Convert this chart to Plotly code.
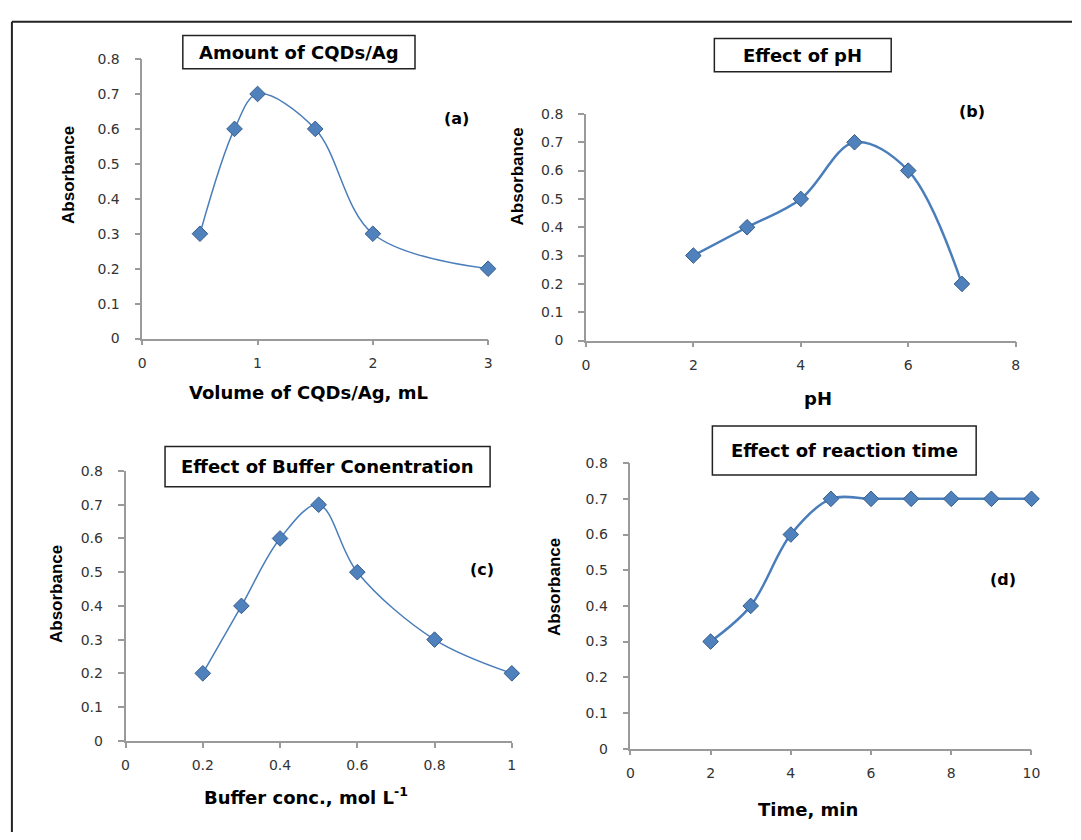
import plotly.graph_objects as go

W, H = 1081, 840

# ---- data ----
vol_ml = [0.5, 0.8, 1.0, 1.5, 2.0, 3.0]
abs_vol = [0.3, 0.6, 0.7, 0.6, 0.3, 0.2]

ph = [2, 3, 4, 5, 6, 7]
abs_ph = [0.3, 0.4, 0.5, 0.7, 0.6, 0.2]

buffer_conc = [0.2, 0.3, 0.4, 0.5, 0.6, 0.8, 1.0]
abs_buffer = [0.2, 0.4, 0.6, 0.7, 0.5, 0.3, 0.2]

time_min = [2, 3, 4, 5, 6, 7, 8, 9, 10]
abs_time = [0.3, 0.4, 0.6, 0.7, 0.7, 0.7, 0.7, 0.7, 0.7]

panel_titles = ["Amount of CQDs/Ag", "Effect of pH", "Effect of Buffer Conentration", "Effect of reaction time"]
panel_tags = ["(a)", "(b)", "(c)", "(d)"]
x_titles = ["Volume of CQDs/Ag, mL", "pH", "Buffer conc., mol L<sup>-1</sup>", "Time, min"]
y_title = "Absorbance"
x_ranges = [[0, 3], [0, 8], [0, 1], [0, 10]]
x_dticks = [1, 2, 0.2, 2]
y_range = [0, 0.8]

# ---- layout geometry (window pixels) ----
areas = [(140, 490, 52, 337), (589, 1024, 108, 339), (123, 514, 472, 747), (634, 1040, 464, 755)]
title_boxes = [(181, 416, 28, 62), (719, 898, 31, 65), (163, 492, 447, 488), (717, 984, 426, 476)]
tag_pos = [(458, 113), (980, 105), (484, 572), (1011, 583)]
ytitle_pos = [(66, 170), (520, 172), (53, 597), (557, 590)]
xtitle_pos = [(308, 392), (824, 398), (306, 803), (814, 817)]
line_widths = [1.5, 2.5, 1.5, 2.5]

def px(x):
    return x / W

def py(y):
    return 1 - y / H

LINE_COLOR = "#4A7EBB"
MARKER_COLOR = "#4F81BD"
MARKER_EDGE = "#385D8A"
AXIS_COLOR = "#9A9A9A"
TICK_FONT = dict(family="DejaVu Sans", size=14, color="#333333")
BOLD = "DejaVu Sans"

fig = go.Figure()
series = [(vol_ml, abs_vol), (ph, abs_ph), (buffer_conc, abs_buffer), (time_min, abs_time)]

layout = dict(
    width=W, height=H,
    margin=dict(l=0, r=0, t=0, b=0),
    paper_bgcolor="white", plot_bgcolor="white",
    showlegend=False,
)
annotations = []
shapes = []

for i, (xs, ys) in enumerate(series):
    n = "" if i == 0 else str(i + 1)
    fig.add_trace(go.Scatter(
        x=xs, y=ys, mode="lines+markers",
        line=dict(color=LINE_COLOR, width=line_widths[i], shape="spline", smoothing=1.0),
        marker=dict(symbol="diamond", size=12, color=MARKER_COLOR,
                    line=dict(color=MARKER_EDGE, width=1)),
        xaxis="x" + n, yaxis="y" + n, cliponaxis=False,
    ))
    x0, x1, yt, yb = areas[i]
    layout["xaxis" + n] = dict(
        domain=[px(x0), px(x1)], range=x_ranges[i], dtick=x_dticks[i], tick0=0,
        showgrid=False, zeroline=False, showline=True, linecolor=AXIS_COLOR, linewidth=1.5,
        ticks="outside", ticklen=5, tickcolor=AXIS_COLOR, tickwidth=1.5,
        tickfont=TICK_FONT, anchor="y" + n, ticklabelstandoff=6,
    )
    layout["yaxis" + n] = dict(
        domain=[py(yb), py(yt)], range=y_range, dtick=0.1, tick0=0,
        showgrid=False, zeroline=False, showline=True, linecolor=AXIS_COLOR, linewidth=1.5,
        ticks="outside", ticklen=6, tickcolor=AXIS_COLOR, tickwidth=1.5,
        tickfont=TICK_FONT, anchor="x" + n, ticklabelstandoff=12,
    )
    bx0, bx1, by0, by1 = title_boxes[i]
    shapes.append(dict(type="rect", xref="paper", yref="paper",
                       x0=px(bx0), x1=px(bx1), y0=py(by1), y1=py(by0),
                       line=dict(color="#222222", width=1.5), fillcolor="white"))
    annotations.append(dict(text="<b>" + panel_titles[i] + "</b>", xref="paper", yref="paper",
                            x=px((bx0 + bx1) / 2), y=py((by0 + by1) / 2),
                            showarrow=False, xanchor="center", yanchor="middle",
                            font=dict(family=BOLD, size=18, color="black")))
    tx, ty = tag_pos[i]
    annotations.append(dict(text="<b>" + panel_tags[i] + "</b>", xref="paper", yref="paper",
                            x=px(tx), y=py(ty), showarrow=False, xanchor="center", yanchor="middle",
                            font=dict(family=BOLD, size=16, color="black")))
    yx, yy = ytitle_pos[i]
    annotations.append(dict(text="<b>" + y_title + "</b>", xref="paper", yref="paper",
                            x=px(yx), y=py(yy), showarrow=False, textangle=-90,
                            xanchor="center", yanchor="middle",
                            font=dict(family="Liberation Sans Narrow, Liberation Sans", size=17, color="black")))
    xx, xy = xtitle_pos[i]
    annotations.append(dict(text="<b>" + x_titles[i] + "</b>", xref="paper", yref="paper",
                            x=px(xx), y=py(xy), showarrow=False, xanchor="center", yanchor="middle",
                            font=dict(family=BOLD, size=18, color="black")))

# outer frame (top and left edges visible)
shapes.append(dict(type="line", xref="paper", yref="paper", x0=px(8), x1=1.0, y0=py(14), y1=py(14),
                   line=dict(color="#222222", width=2)))
shapes.append(dict(type="line", xref="paper", yref="paper", x0=px(8), x1=px(8), y0=py(14), y1=0,
                   line=dict(color="#222222", width=2)))

layout["annotations"] = annotations
layout["shapes"] = shapes
fig.update_layout(**layout)
fig.write_html(
    "out.html",
    config={"displayModeBar": False},
    post_script="document.body.style.margin='0';document.body.style.overflow='hidden';",
)
